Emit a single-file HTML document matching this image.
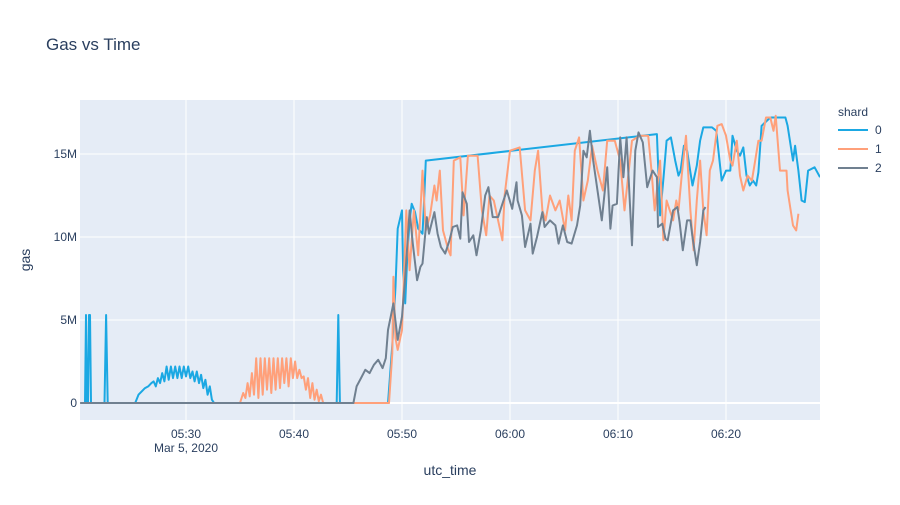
<!DOCTYPE html>
<html><head><meta charset="utf-8"><style>
body{margin:0;background:#fff;}
svg text{font-family:"Liberation Sans",sans-serif;fill:#2a3f5f;}
</style></head><body>
<svg id="chart" width="900" height="500">
<rect x="0" y="0" width="900" height="500" fill="#fff"/>
<rect x="80" y="100" width="740" height="320" fill="#e5ecf6"/>
<g id="grid"></g>
<g id="series" clip-path="url(#clip)"></g>
<defs><clipPath id="clip"><rect x="80" y="100" width="740" height="320"/></clipPath></defs>
<g id="axes"></g>
<text x="46" y="50" font-size="17">Gas vs Time</text>
<text x="450" y="475" font-size="14" text-anchor="middle">utc_time</text>
<text x="0" y="0" font-size="14" text-anchor="middle" transform="translate(30,260) rotate(-90)">gas</text>
<g id="legend">
<text x="838" y="116" font-size="12">shard</text>
</g>
</svg>
<script>
// time in minutes after 05:20, values in millions
const xTickLabels = ["05:30","05:40","05:50","06:00","06:10","06:20"];
const xTickMinutes = [10,20,30,40,50,60];
const yTickLabels = ["0","5M","10M","15M"];
const yTickValues = [0,5,10,15];
const seriesNames = ["0","1","2"];
const seriesColors = ["#1ba8e3","#ffa07a","#708090"];

const t0 = [0.2,0.65,0.74,0.83,0.93,1.02,1.11,1.2,2.45,2.6,2.75,5.3,5.6,5.9,6.2,6.5,6.8,7.0,7.2,7.4,7.6,7.8,8.0,8.2,8.4,8.6,8.8,9.0,9.2,9.4,9.6,9.8,10.0,10.2,10.4,10.6,10.8,11.0,11.2,11.4,11.6,11.8,12.0,12.2,12.4,12.6,23.95,24.1,24.25,28.7,29.1,29.4,29.6,30.0,30.1,30.3,30.5,30.7,30.9,31.2,31.5,31.9,32.0,32.2,53.6,53.9,54.2,54.5,54.9,55.3,55.6,55.8,56.1,56.4,56.7,56.9,57.3,57.6,57.9,58.7,59.1,59.4,59.6,60.0,60.4,60.6,61.0,61.3,61.6,61.9,62.2,62.5,62.8,63.0,63.3,64.1,65.5,65.7,66.2,66.4,66.7,67.0,67.3,67.6,68.2,68.7];
const v0 = [0,0,5.3,0,0,5.3,5.3,0,0,5.3,0,0,0.5,0.7,0.9,1.0,1.2,1.3,1.0,1.5,1.2,1.8,1.3,2.2,1.4,2.2,1.5,2.2,1.5,2.2,1.5,2.2,1.6,2.2,1.5,1.9,1.3,1.9,1.2,1.7,0.9,1.4,0.5,1.0,0.2,0,0,5.3,0,0,3.5,7,10.5,11.6,8,6,9,11,12,11.5,10.5,10.2,11.5,14.6,16.2,11.3,13.5,15.8,16.0,14.6,13.7,14.0,15.5,15.2,13.9,13.1,14.3,15.8,16.6,16.6,16.4,14.6,13.4,14.0,14.0,16.1,15.2,14.9,15.4,13.7,13.1,13.4,13.1,13.9,16.7,17.2,17.2,16.7,14.6,15.5,14.0,12.2,12.1,14.0,14.2,13.6];

const t1 = [0.2,15.0,15.3,15.5,15.7,15.9,16.1,16.3,16.5,16.7,16.9,17.1,17.3,17.5,17.7,17.9,18.1,18.3,18.5,18.7,18.9,19.1,19.3,19.5,19.7,19.9,20.1,20.3,20.5,20.7,20.9,21.1,21.3,21.5,21.7,21.9,22.1,22.3,22.5,22.7,28.8,29.1,29.2,29.4,29.6,30.0,30.4,30.7,31.1,31.5,31.9,32.2,32.6,33.0,33.2,33.5,33.8,34.3,34.5,34.8,35.4,35.7,36.1,37.0,37.4,37.8,38.1,38.5,38.9,39.3,39.5,40.0,40.9,41.4,41.9,42.3,42.6,43.0,43.3,43.7,44.2,44.6,45.1,45.4,45.7,46.0,46.4,46.8,47.2,47.6,48.1,48.6,49.0,49.7,50.2,50.6,50.9,51.3,52.0,52.8,53.1,53.4,53.9,54.2,54.5,54.8,55.1,55.4,55.6,55.9,56.3,56.7,57.0,57.3,57.6,57.9,58.2,58.5,58.8,59.2,59.6,60.0,60.4,60.6,61.0,61.3,61.6,62.0,62.4,62.7,63.0,63.3,63.7,64.1,64.4,64.6,65.0,65.6,65.7,66.2,66.5,66.7];
const v1 = [0,0,0.6,0.3,1.2,0.4,1.8,0.5,2.7,0.3,2.7,0.5,2.7,0.8,2.7,0.6,2.7,0.8,2.7,0.9,2.7,1.2,2.7,1.0,2.7,1.5,2.5,1.5,2.0,1.5,1.6,0.8,1.5,0.3,1.2,0.2,0.8,0.1,0.5,0,0,3,7.6,3.9,3.2,4.4,11.6,8,11.6,8.9,14.0,10.4,11.3,13.1,12.2,14.0,10.4,9.2,8.9,14.6,14.8,11.3,14.9,14.9,11.6,10.1,12.5,12.2,11.0,9.8,12.5,15.2,15.4,11.6,11.0,14.0,15.2,11.6,11.0,12.5,11.6,12.2,10.4,12.5,11.0,15.2,16.0,12.2,13.4,15.5,14.0,12.8,15.8,15.8,14.6,11.6,13.4,15.8,16.1,16.1,14.0,11.6,14.6,9.8,12.2,11.6,11.0,12.2,11.6,13.7,16.1,11.6,9.2,12.2,14.6,11.6,10.1,14.0,14.6,16.7,16.8,16.1,14.6,14.3,15.8,13.7,12.8,13.7,13.4,14.6,15.8,15.8,17.2,17.2,16.4,17.3,14.0,14.0,12.8,10.7,10.4,11.4];

const t2 = [0.2,25.5,25.8,26.2,26.6,27.0,27.4,27.8,28.2,28.5,28.7,29.2,29.6,30.0,30.3,30.7,31.0,31.4,31.7,31.9,32.3,32.5,33.0,33.3,33.6,34.0,34.4,34.7,35.1,35.4,35.6,36.0,36.2,36.6,36.9,37.3,37.7,38.0,38.4,38.9,39.3,39.7,40.2,40.6,40.7,41.1,41.4,41.9,42.1,42.5,43.0,43.2,43.7,44.2,44.5,44.9,45.3,45.7,46.2,46.5,46.8,47.1,47.4,47.7,48.1,48.5,49.0,49.3,49.5,49.9,50.2,50.5,50.8,51.3,51.6,51.9,52.3,52.7,53.0,53.2,53.6,53.7,54.1,54.4,54.6,55.1,55.5,55.7,56.0,56.4,56.7,56.9,57.3,57.6,57.9,58.1];
const v2 = [0,0,1.0,1.5,2.0,1.8,2.3,2.6,2.1,2.7,4.4,6.0,3.8,5.2,7.6,11.6,9.6,7.4,8.2,8.4,11.2,10.2,11.5,10.2,9.4,9.0,9.8,10.6,10.7,9.9,12.7,12.0,9.7,10.1,8.9,10.4,12.5,13.0,11.2,11.2,12.0,12.8,11.7,13.3,12.2,11.3,9.4,10.8,9.0,10.0,11.5,10.6,11.0,10.7,9.6,10.7,9.7,9.6,10.7,11.9,15.2,14.8,16.4,14.6,12.8,11.0,14.2,10.5,11.9,12.0,16.0,13.6,16.0,9.5,15.2,16.3,15.7,13.0,13.6,14.0,13.6,10.6,10.8,9.9,9.8,11.6,11.8,10.9,9.2,11.0,11.0,10.0,8.3,9.7,11.6,11.8];

const seriesT = [t0,t1,t2];
const seriesV = [v0,v1,v2];

const NS = "http://www.w3.org/2000/svg";
function xScale(t){ return 186 + (t - 10) * 10.8; }
function yScale(v){ return 403 - v * 16.6; }
function mk(tag, attrs, parent){
  const e = document.createElementNS(NS, tag);
  for (const k in attrs) e.setAttribute(k, attrs[k]);
  parent.appendChild(e);
  return e;
}
const grid = document.getElementById('grid');
const axes = document.getElementById('axes');
xTickMinutes.forEach((m,i)=>{
  const x = xScale(m);
  const l = mk('line',{x1:x,x2:x,y1:100,y2:420,stroke:'#fff','stroke-width':1},grid);
  
  
  const t = mk('text',{x:x,y:438,'font-size':12,'text-anchor':'middle'},axes);
  t.textContent = xTickLabels[i];
  
  
});
const sub = mk('text',{x:xScale(xTickMinutes[0]),y:452,'font-size':12,'text-anchor':'middle'},axes);
sub.textContent = "Mar 5, 2020";


yTickValues.forEach((v,i)=>{
  const y = yScale(v);
  const l = mk('line',{x1:80,x2:820,y1:y,y2:y,stroke:'#fff','stroke-width':v===0?2:1},grid);
  
  
  const t = mk('text',{x:77,y:y+4,'font-size':12,'text-anchor':'end'},axes);
  t.textContent = yTickLabels[i];
  
  
});
const sg = document.getElementById('series');
[0,1,2].forEach(s=>{
  const T = seriesT[s], V = seriesV[s];
  const pts = T.map((t,i)=>xScale(t).toFixed(1)+','+yScale(V[i]).toFixed(1)).join(' ');
  const p = mk('polyline',{points:pts,fill:'none',stroke:seriesColors[s],'stroke-width':2,'stroke-linejoin':'round'},sg);
  
  
});
const lg = document.getElementById('legend');
seriesNames.forEach((n,i)=>{
  const y = 130 + i*19;
  const l = mk('line',{x1:838,x2:868,y1:y,y2:y,stroke:seriesColors[i],'stroke-width':2},lg);
  
  
  const t = mk('text',{x:875,y:y+4,'font-size':12},lg);
  t.textContent = n;
  
  
});
</script>
</body></html>
